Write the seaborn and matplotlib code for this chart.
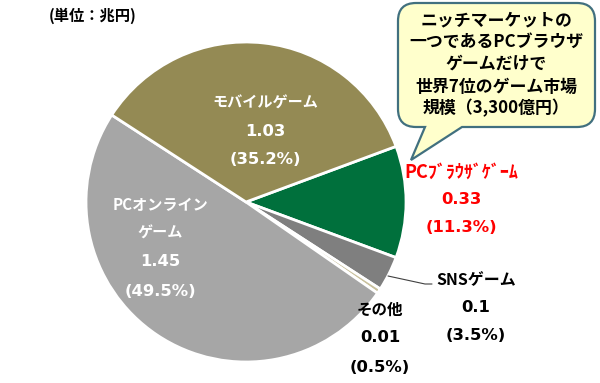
import matplotlib
matplotlib.use("Agg")
import matplotlib.pyplot as plt
import seaborn as sns
from matplotlib.path import Path
from matplotlib.patches import PathPatch

# ---- data ----
categories = ["PCﾌﾞﾗｳｻﾞｹﾞｰﾑ", "SNSゲーム", "その他", "PCオンラインゲーム", "モバイルゲーム"]
values = [0.33, 0.1, 0.01, 1.45, 1.03]          # 兆円
shares = [11.3, 3.5, 0.5, 49.5, 35.2]          # %
colors = ["#00703C", "#7F7F7F", "#C9C19D", "#A6A6A6", "#948A54"]
unit_label = "(単位：兆円)"
callout_lines = ["ニッチマーケットの", "一つであるPCブラウザ", "ゲームだけで",
                 "世界7位のゲーム市場", "規模（3,300億円）"]

sns.set_theme(style="white")
JP = ["Noto Sans CJK JP", "DejaVu Sans"]
NUM = ["DejaVu Sans", "Noto Sans CJK JP"]
plt.rcParams["font.family"] = JP

W, H = 600, 383
fig = plt.figure(figsize=(6, 3.83), dpi=100)
ax = fig.add_axes([0, 0, 1, 1])

def Y(y):
    return H - y

cx, cy, R = 246, 202, 160
palette = sns.color_palette(colors)
start = shares[0] / 100 * 360 / 2
ax.pie(shares, colors=palette, startangle=start, counterclock=False,
       center=(cx, Y(cy)), radius=R, explode=[0.02, 0, 0, 0.012, 0],
       wedgeprops=dict(edgecolor="white", linewidth=2.0))
ax.set_xlim(0, W)
ax.set_ylim(0, H)
ax.set_aspect("equal")
ax.axis("off")

def txt(x, y, s, size, color="black", fam=JP):
    ax.text(x, Y(y), s, ha="center", va="center", fontsize=size,
            fontweight="bold", color=color, family=fam)

def label(x, ys, name_lines, val, pct, color, name_size=10.9):
    n = len(name_lines)
    for i, s in enumerate(name_lines):
        txt(x, ys[i], s, name_size, color, JP)
    txt(x, ys[n], f"{val:g}", 11.8, color, NUM)
    txt(x, ys[n + 1], f"({pct:.1f}%)", 11.8, color, NUM)

# unit label
txt(93, 16, unit_label, 11, "black", JP)

# slice labels
label(265, [103, 132, 160], ["モバイルゲーム"], values[4], shares[4], "white")
label(160, [205, 233, 262, 292], ["PCオンライン", "ゲーム"], values[3], shares[3], "white")
label(461, [172, 200, 228], [categories[0]], values[0], shares[0], "#FF0000", 13)
label(476, [280, 308, 335], [categories[1]], values[1], shares[1], "black", 11.5)
label(380, [310, 338, 367], [categories[2]], values[2], shares[2], "black", 11.2)

# leader line for SNS
ax.plot([388, 425, 432], [Y(276), Y(284), Y(284)], color="#404040", lw=0.8)

# callout bubble
x0, x1, y0, y1, r = 398, 595, 3, 127, 18
xa, xb = 425, 462
tip = (411, 160)
pts = [
    ((x0 + r, y0), Path.MOVETO),
    ((x1 - r, y0), Path.LINETO),
    ((x1, y0), Path.CURVE3), ((x1, y0 + r), Path.CURVE3),
    ((x1, y1 - r), Path.LINETO),
    ((x1, y1), Path.CURVE3), ((x1 - r, y1), Path.CURVE3),
    ((xb, y1), Path.LINETO),
    (tip, Path.LINETO),
    ((xa, y1), Path.LINETO),
    ((x0 + r, y1), Path.LINETO),
    ((x0, y1), Path.CURVE3), ((x0, y1 - r), Path.CURVE3),
    ((x0, y0 + r), Path.LINETO),
    ((x0, y0), Path.CURVE3), ((x0 + r, y0), Path.CURVE3),
    ((x0 + r, y0), Path.CLOSEPOLY),
]
verts = [(p[0], Y(p[1])) for p, _ in pts]
codes = [c for _, c in pts]
ax.add_patch(PathPatch(Path(verts, codes), facecolor="#FFFFCC",
                       edgecolor="#41707F", lw=1.6, zorder=5))
for s, yy in zip(callout_lines, [20, 42, 64, 87, 108]):
    ax.text(496, Y(yy), s, ha="center", va="center", fontsize=12.2,
            fontweight="bold", color="black", family=JP, zorder=6)

fig.savefig("out.png", dpi=100)
